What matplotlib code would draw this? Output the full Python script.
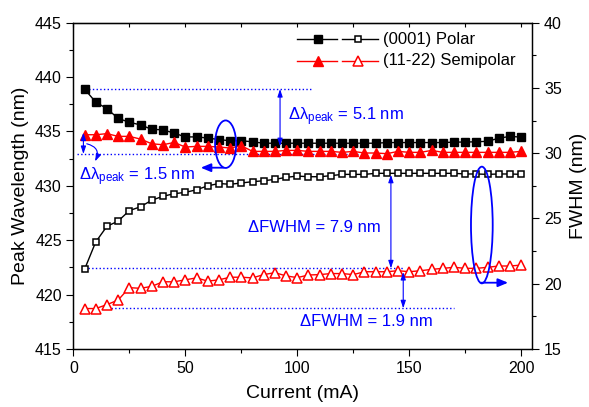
import matplotlib
matplotlib.use("Agg")
import matplotlib.pyplot as plt
from matplotlib.patches import Ellipse
from matplotlib.ticker import MultipleLocator

plt.rcParams['font.family'] = ['Liberation Sans', 'DejaVu Sans']
plt.rcParams['mathtext.fontset'] = 'custom'
plt.rcParams['mathtext.rm'] = 'Liberation Sans'
plt.rcParams['mathtext.it'] = 'Liberation Sans:italic'

# data
current = [5, 10, 15, 20, 25, 30, 35, 40, 45, 50, 55, 60, 65, 70, 75, 80, 85, 90, 95, 100,
           105, 110, 115, 120, 125, 130, 135, 140, 145, 150, 155, 160, 165, 170, 175, 180, 185, 190, 195, 200]

polar_peak = [438.9, 437.7, 437.1, 436.2, 435.85, 435.6, 435.2, 435.15, 434.85, 434.5,
              434.5, 434.4, 434.25, 434.15, 434.15, 434.05, 433.92, 433.92, 433.92, 433.92,
              433.92, 433.92, 433.92, 433.92, 433.92, 433.92, 433.92, 433.98, 433.98, 433.98,
              433.98, 433.98, 433.98, 434.02, 434.03, 434.05, 434.1, 434.38, 434.55, 434.48]

semi_peak = [434.7, 434.7, 434.8, 434.55, 434.55, 434.3, 433.87, 433.78, 433.99, 433.57,
             433.63, 433.63, 433.57, 433.48, 433.69, 433.17, 433.17, 433.17, 433.26, 433.26,
             433.17, 433.17, 433.17, 433.08, 433.17, 433.02, 433.02, 432.96, 433.17, 433.08,
             433.08, 433.26, 433.08, 433.08, 433.08, 433.08, 433.08, 433.08, 433.08, 433.17]

polar_fwhm = [21.1, 23.2, 24.4, 24.8, 25.6, 25.9, 26.4, 26.7, 26.9, 27.0,
              27.2, 27.5, 27.68, 27.62, 27.72, 27.82, 27.89, 28.0, 28.15, 28.25,
              28.2, 28.2, 28.28, 28.38, 28.38, 28.38, 28.46, 28.46, 28.46, 28.46,
              28.46, 28.46, 28.46, 28.46, 28.41, 28.41, 28.38, 28.41, 28.41, 28.38]

semi_fwhm = [18.1, 18.1, 18.4, 18.75, 19.7, 19.65, 19.8, 20.15, 20.15, 20.3,
             20.45, 20.2, 20.3, 20.5, 20.5, 20.45, 20.7, 20.85, 20.6, 20.47,
             20.67, 20.7, 20.78, 20.78, 20.7, 20.92, 20.92, 20.92, 21.0, 20.92,
             21.0, 21.1, 21.18, 21.26, 21.18, 21.18, 21.26, 21.36, 21.36, 21.43]

blue = '#0000ff'
red = '#ff0000'

fig = plt.figure(figsize=(5.89, 4.07), dpi=100)
ax = fig.add_axes([0.1245, 0.1425, 0.7795, 0.8017])
ax2 = ax.twinx()

ax.plot(current, polar_peak, color='black', lw=1.0, marker='s', ms=5.8,
        mfc='black', mec='black', zorder=3)
ax.plot(current, semi_peak, color=red, lw=1.0, marker='^', ms=6.5,
        mfc=red, mec=red, zorder=3)
ax2.plot(current, polar_fwhm, color='black', lw=1.0, marker='s', ms=5.0,
         mfc='white', mec='black', mew=1.1, zorder=3)
ax2.plot(current, semi_fwhm, color=red, lw=1.0, marker='^', ms=6.5,
         mfc='white', mec=red, mew=1.1, zorder=3)

ax.set_xlim(0, 205)
ax.set_ylim(415, 445)
ax2.set_ylim(15, 40)

ax.xaxis.set_major_locator(MultipleLocator(50))
ax.xaxis.set_minor_locator(MultipleLocator(25))
ax.yaxis.set_major_locator(MultipleLocator(5))
ax.yaxis.set_minor_locator(MultipleLocator(2.5))
ax2.yaxis.set_major_locator(MultipleLocator(5))
ax2.yaxis.set_minor_locator(MultipleLocator(2.5))

for a in (ax, ax2):
    a.tick_params(which='major', direction='out', length=4.8, width=0.8, labelsize=11.5)
    a.tick_params(which='minor', direction='out', length=3, width=0.8)
    for s in a.spines.values():
        s.set_linewidth(0.9)

top = ax.secondary_xaxis('top')
top.xaxis.set_major_locator(MultipleLocator(25))
top.tick_params(direction='in', length=3, width=0.8, labeltop=False)

ax.set_xlabel('Current (mA)', fontsize=14, labelpad=7)
ax.set_ylabel('Peak Wavelength (nm)', fontsize=14, labelpad=4)
ax2.set_ylabel('FWHM (nm)', fontsize=14, labelpad=6)

# guide lines
ax.plot([5.2, 107], [438.9, 438.9], ls=':', color=blue, lw=1.0)
ax.plot([1.5, 127], [432.93, 432.93], ls=':', color=blue, lw=1.0)
ax2.plot([6.7, 147], [21.18, 21.18], ls=':', color=blue, lw=1.0)
ax2.plot([17, 170], [18.12, 18.12], ls=':', color=blue, lw=1.0)

# double arrows
dbl = dict(arrowstyle='<|-|>,head_length=0.45,head_width=0.15', color=blue, lw=0.8,
           shrinkA=0, shrinkB=0)
ax.annotate('', xy=(92.3, 438.9), xytext=(92.3, 433.65), arrowprops=dbl)
ax.annotate('', xy=(4.5, 434.9), xytext=(4.5, 432.93), arrowprops=dbl)
ax2.annotate('', xy=(141.8, 28.35), xytext=(141.8, 21.18), arrowprops=dbl)
ax2.annotate('', xy=(147.3, 20.9), xytext=(147.3, 18.12), arrowprops=dbl)
ax.annotate('', xy=(9.7, 432.25), xytext=(6.0, 433.87),
            arrowprops=dict(arrowstyle='-|>,head_length=0.45,head_width=0.15', color=blue,
                            lw=0.8, shrinkA=0, shrinkB=0, connectionstyle='arc3,rad=-0.6'))

# ellipses and their arrows
ax.add_patch(Ellipse((68.0, 433.83), 9.4, 4.37, fill=False, ec=blue, lw=1.3, zorder=4))
ax2.add_patch(Ellipse((182.4, 24.5), 9.7, 8.94, fill=False, ec=blue, lw=1.3, zorder=4))
big = dict(arrowstyle='-|>,head_length=0.6,head_width=0.25', color=blue, lw=1.3,
           shrinkA=0, shrinkB=0)
ax.annotate('', xy=(56.9, 431.67), xytext=(67.0, 431.67), arrowprops=big)
ax2.annotate('', xy=(194.1, 20.08), xytext=(182.2, 20.08), arrowprops=big)

# labels
ax.text(96.0, 436.0, '\u0394\u03bb$_{\\mathrm{peak}}$ = 5.1 nm', color=blue,
        fontsize=12, ha='left', va='baseline')
ax.text(2.5, 430.48, '\u0394\u03bb$_{\\mathrm{peak}}$ = 1.5 nm', color=blue,
        fontsize=12, ha='left', va='baseline')
ax2.text(78.2, 23.98, '\u0394FWHM = 7.9 nm', color=blue, fontsize=12,
         ha='left', va='baseline')
ax2.text(101.3, 16.76, '\u0394FWHM = 1.9 nm', color=blue, fontsize=12,
         ha='left', va='baseline')

# legend drawn by hand (Origin-style filled/open pair)
rows = [(0.949, 'black', 's', '(0001) Polar'), (0.883, red, '^', '(11-22) Semipolar')]
for yy, c, m, lab in rows:
    ax2.plot([0.487, 0.575], [yy, yy], color=c, lw=1.0, transform=ax2.transAxes,
             clip_on=False, zorder=5)
    ax2.plot([0.533], [yy], color=c, marker=m, ms=5.8 if m == 's' else 6.5,
             mfc=c, mec=c, transform=ax2.transAxes, clip_on=False, zorder=6)
    ax2.plot([0.585, 0.663], [yy, yy], color=c, lw=1.0, transform=ax2.transAxes,
             clip_on=False, zorder=5)
    ax2.plot([0.620], [yy], color=c, marker=m, ms=5.0 if m == 's' else 6.5,
             mfc='white', mec=c, mew=1.1, transform=ax2.transAxes, clip_on=False, zorder=6)
    ax2.text(0.674, yy, lab, color='black', fontsize=12, ha='left', va='center',
             transform=ax2.transAxes)

fig.savefig('out.png', dpi=100)
